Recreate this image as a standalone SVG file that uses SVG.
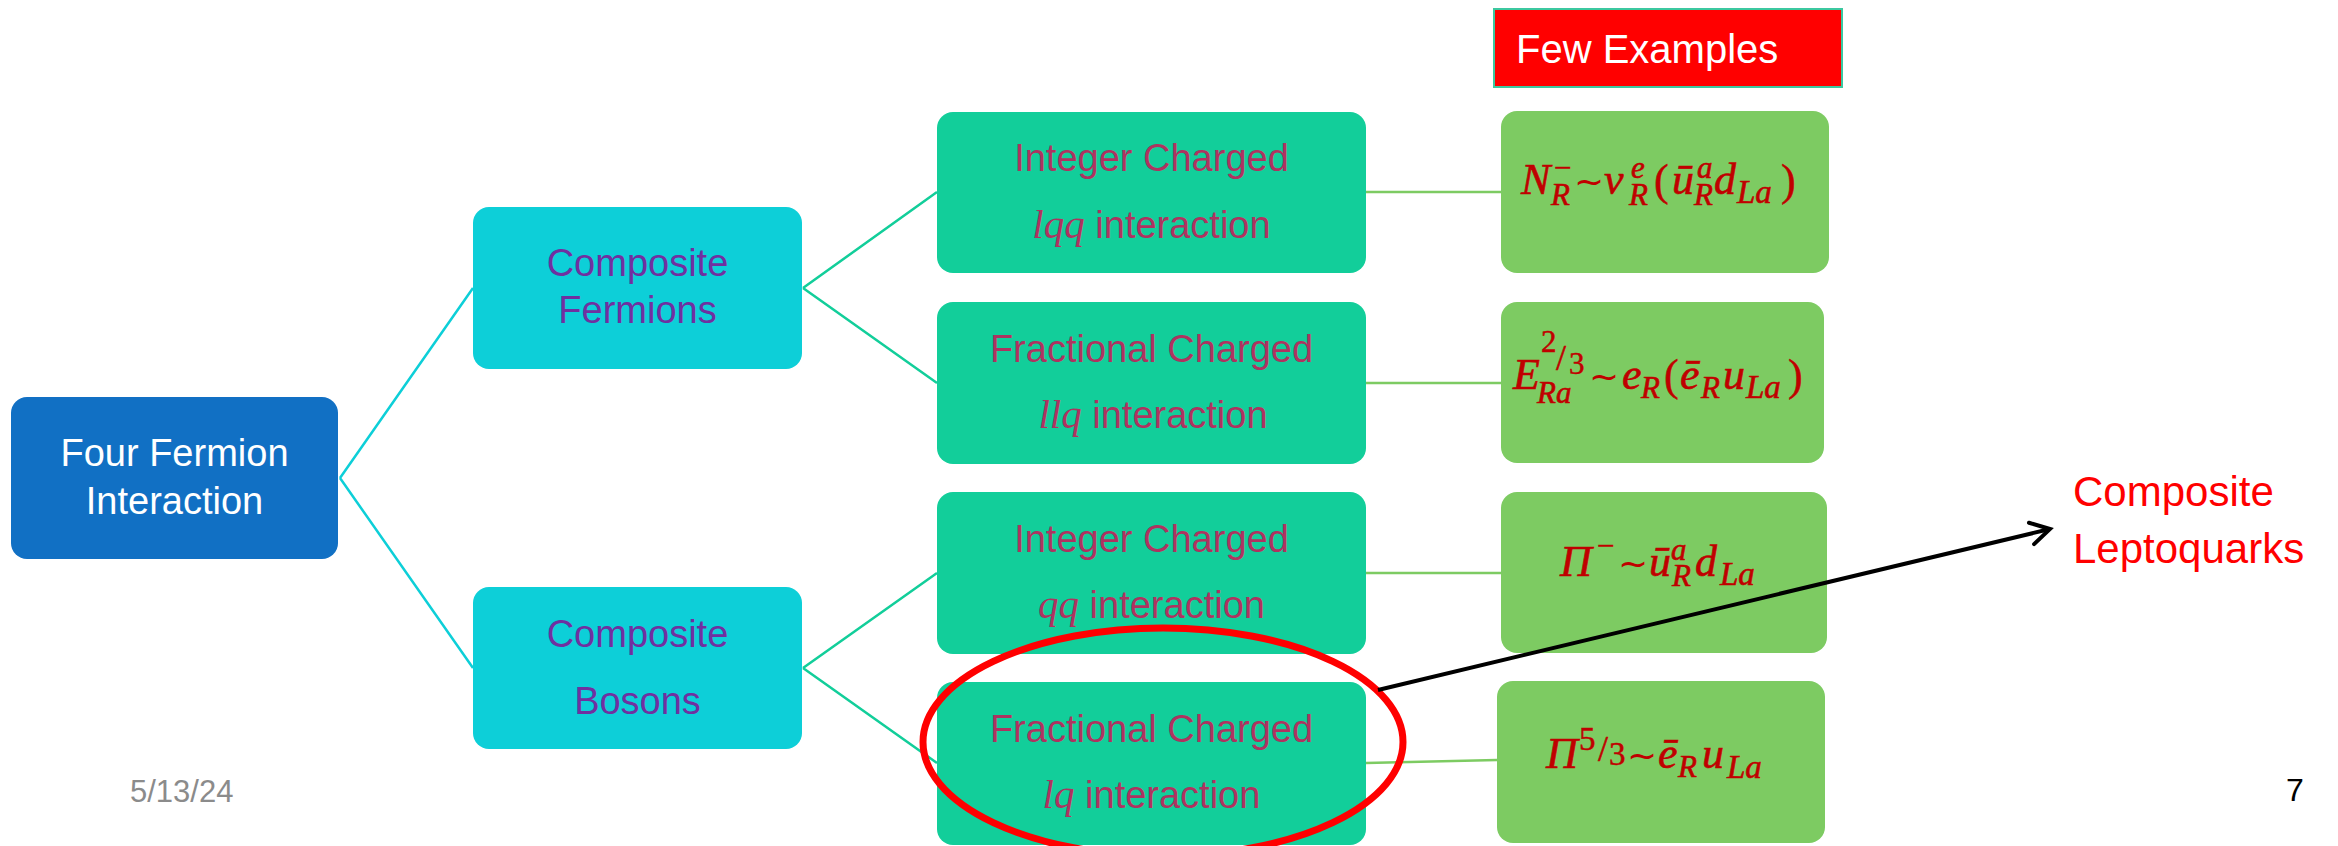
<svg xmlns="http://www.w3.org/2000/svg" width="2338" height="846" viewBox="0 0 2338 846">
<style>
.sans{font-family:"Liberation Sans",Arial,sans-serif}
.t38{font-size:38px}
.root{fill:#1170C4}
.comp{fill:#0DCFD8}
.inter{fill:#12CE9A}
.ex{fill:#7DCB62}
.ptext{fill:#7030A0}
.itext{fill:#AE3360}
.m{font-family:"Liberation Serif","Times New Roman",serif;font-style:italic;font-size:44px;fill:#C00000;stroke:#C00000;stroke-width:0.6}
.mu{font-family:"Liberation Serif","Times New Roman",serif;font-size:44px;fill:#C00000;stroke:#C00000;stroke-width:0.5}
.tl{font-family:"DejaVu Sans",sans-serif;font-size:36px;fill:#C00000}
.s{font-size:31px}
.s33{font-size:33px}
.s29{font-size:29px}
.s32{font-size:32px}
.s36{font-size:36px}
.mi{font-family:"Liberation Serif","Times New Roman",serif;font-style:italic;font-size:41px}
.c1{stroke:#0DCFD8;stroke-width:2.5;fill:none}
.c2{stroke:#12CE9A;stroke-width:2.5;fill:none}
.c3{stroke:#7DCB62;stroke-width:2.5;fill:none}
</style>
<defs>
<marker id="arr" markerUnits="userSpaceOnUse" markerWidth="32" markerHeight="32" viewBox="0 0 32 32" refX="26" refY="16" orient="auto">
<path d="M7,5 L26,16 L7,27" fill="none" stroke="#000" stroke-width="4" stroke-linecap="round" stroke-linejoin="miter"/>
</marker>
</defs>
<rect width="2338" height="846" fill="#fff"/>
<g id="connectors">
<path class="c1" d="M340,478 L473,288 M340,478 L473,668"/>
<path class="c2" d="M803,288 L937,192 M803,288 L937,383 M803,668 L937,573 M803,668 L937,763"/>
<path class="c3" d="M1366,192 L1501,192 M1366,383 L1501,383 M1366,573 L1501,573 M1366,763 L1497,760"/>
</g>
<g id="four-fermion">
<rect class="root" x="11" y="397" width="327" height="162" rx="16"/>
<text class="sans t38" fill="#fff" text-anchor="middle" x="174.5" y="466">Four Fermion</text>
<text class="sans t38" fill="#fff" text-anchor="middle" x="174.5" y="514">Interaction</text>
</g>
<g id="composite-fermions">
<rect class="comp" x="473" y="207" width="329" height="162" rx="16"/>
<text class="sans t38 ptext" text-anchor="middle" x="637.5" y="276">Composite</text>
<text class="sans t38 ptext" text-anchor="middle" x="637.5" y="323">Fermions</text>
</g>
<g id="composite-bosons">
<rect class="comp" x="473" y="587" width="329" height="162" rx="16"/>
<text class="sans t38 ptext" text-anchor="middle" x="637.5" y="647">Composite</text>
<text class="sans t38 ptext" text-anchor="middle" x="637.5" y="714">Bosons</text>
</g>
<g id="integer-lqq">
<rect class="inter" x="937" y="112" width="429" height="161" rx="16"/>
<text class="sans t38 itext" text-anchor="middle" x="1151.5" y="171">Integer Charged</text>
<text class="sans t38 itext" text-anchor="middle" x="1151.5" y="238"><tspan class="mi">lqq</tspan> interaction</text>
</g>
<g id="fractional-llq">
<rect class="inter" x="937" y="302" width="429" height="162" rx="16"/>
<text class="sans t38 itext" text-anchor="middle" x="1151.5" y="362">Fractional Charged</text>
<text class="sans t38 itext" text-anchor="middle" x="1153" y="428"><tspan class="mi">llq</tspan> interaction</text>
</g>
<g id="integer-qq">
<rect class="inter" x="937" y="492" width="429" height="162" rx="16"/>
<text class="sans t38 itext" text-anchor="middle" x="1151.5" y="552">Integer Charged</text>
<text class="sans t38 itext" text-anchor="middle" x="1151.5" y="618"><tspan class="mi">qq</tspan> interaction</text>
</g>
<g id="fractional-lq">
<rect class="inter" x="937" y="682" width="429" height="163" rx="16"/>
<text class="sans t38 itext" text-anchor="middle" x="1151.5" y="742">Fractional Charged</text>
<text class="sans t38 itext" text-anchor="middle" x="1151.5" y="808"><tspan class="mi">lq</tspan> interaction</text>
</g>
<g id="few-examples">
<rect x="1494" y="9" width="348" height="78" fill="#FF0000" stroke="#3CC8A0" stroke-width="2"/>
<text class="sans" font-size="40" fill="#fff" x="1516" y="63">Few Examples</text>
</g>
<g id="example-1">
<rect class="ex" x="1501" y="111" width="328" height="162" rx="16"/>
<text class="m" x="1521" y="194">N</text>
<text class="m s" x="1551" y="205">R</text>
<text class="mu s" x="1554" y="178">−</text>
<text class="tl" x="1574" y="194">~</text>
<text class="m" x="1604" y="194">ν</text>
<text class="m s" x="1631" y="178">e</text>
<text class="m s" x="1629" y="205">R</text>
<text class="mu" x="1654" y="195">(</text>
<text class="m" x="1672" y="194">ū</text>
<text class="m s" x="1697" y="178">a</text>
<text class="m s" x="1694" y="205">R</text>
<text class="m" x="1714" y="194">d</text>
<text class="m s33" x="1737" y="203">La</text>
<text class="mu" x="1781" y="195">)</text>
</g>
<g id="example-2">
<rect class="ex" x="1501" y="302" width="323" height="161" rx="16"/>
<text class="m" x="1513" y="389">E</text>
<text class="mu s" x="1541" y="352">2</text>
<text class="mu s36" x="1556" y="370">/</text>
<text class="mu s" x="1569" y="374">3</text>
<text class="m s" x="1537" y="403">Ra</text>
<text class="tl" x="1589" y="389">~</text>
<text class="m" x="1622" y="389">e</text>
<text class="m s" x="1641" y="398">R</text>
<text class="mu" x="1664" y="390">(</text>
<text class="m" x="1680" y="389">ē</text>
<text class="m s" x="1701" y="398">R</text>
<text class="m" x="1723" y="389">u</text>
<text class="m s33" x="1746" y="398">La</text>
<text class="mu" x="1788" y="390">)</text>
</g>
<g id="example-3">
<rect class="ex" x="1501" y="492" width="326" height="161" rx="16"/>
<text class="m" x="1560" y="576">Π</text>
<text class="mu s" x="1597" y="556">−</text>
<text class="tl" x="1618" y="576">~</text>
<text class="m" x="1649" y="576">ū</text>
<text class="m s" x="1671" y="560">a</text>
<text class="m s" x="1672" y="586">R</text>
<text class="m" x="1695" y="576">d</text>
<text class="m s33" x="1720" y="585">La</text>
</g>
<g id="example-4">
<rect class="ex" x="1497" y="681" width="328" height="162" rx="16"/>
<text class="m" x="1546" y="768">Π</text>
<text class="mu s33" x="1579" y="750">5</text>
<text class="mu s36" x="1598" y="761">/</text>
<text class="mu s33" x="1609" y="765">3</text>
<text class="tl" x="1627" y="768">~</text>
<text class="m" x="1658" y="768">ē</text>
<text class="m s" x="1678" y="777">R</text>
<text class="m" x="1702" y="768">u</text>
<text class="m s33" x="1727" y="778">La</text>
</g>
<g id="highlight">
<ellipse cx="1163" cy="742" rx="240" ry="114" fill="none" stroke="#FF0000" stroke-width="7"/>
</g>
<g id="arrow">
<line x1="1378" y1="690" x2="2050" y2="529" stroke="#000" stroke-width="4" marker-end="url(#arr)"/>
</g>
<g id="composite-leptoquarks">
<text class="sans" font-size="42" fill="#FF0000" x="2073" y="506">Composite</text>
<text class="sans" font-size="42" fill="#FF0000" x="2073" y="563">Leptoquarks</text>
</g>
<text class="sans" font-size="31" fill="#8B8B8B" x="130" y="802">5/13/24</text>
<text class="sans" font-size="32" fill="#000" x="2286" y="801">7</text>
</svg>
